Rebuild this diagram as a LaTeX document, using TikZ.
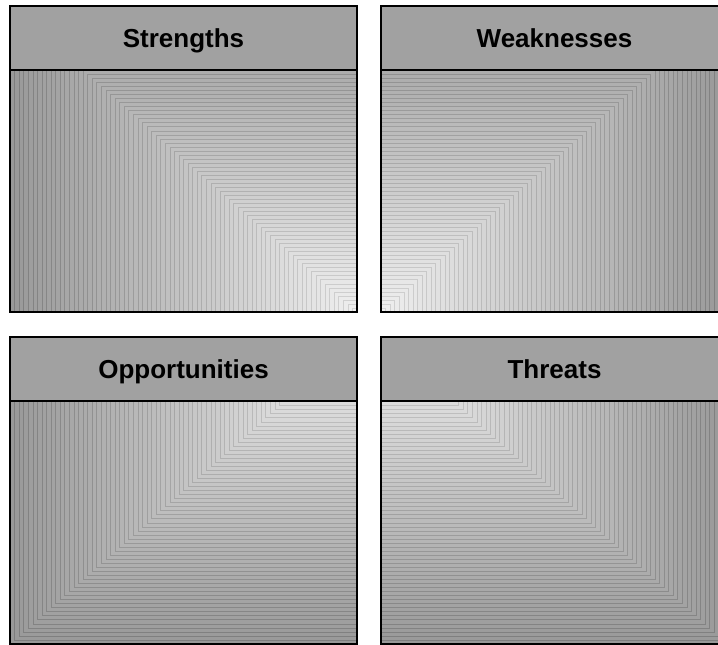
\documentclass[tikz,border=0pt]{standalone}
\usepackage{fontspec}
\setmainfont{Liberation Sans}
\usetikzlibrary{calc}
\tikzset{
  swothead/.style={draw=black, line width=1.6pt, fill={rgb,255:red,161;green,161;blue,161},
    minimum width=347pt, minimum height=64pt, inner sep=0pt, outer sep=0pt,
    text height=19pt, text depth=1pt,
    font=\fontsize{26}{30}\selectfont\bfseries, text=black},
  swotframe/.style={draw=black, line width=1.6pt},
  swotstep/.style={line width=0.6pt}
}
\newcommand\gradbody[8]{%
  \begin{scope}
    \clip (#1,#2) rectangle (#3,#4);
    \foreach \i in {0,...,75}{
      \pgfmathsetmacro\tt{1-\i/76}
      \pgfmathsetmacro\gg{0.94-0.34*\tt}
      \pgfmathsetmacro\gl{\gg-0.11}
      \pgfmathsetmacro\cx{#5+\tt*(#7-#5)}
      \pgfmathsetmacro\cy{#6+\tt*(#8-#6)}
      \definecolor{stepc}{gray}{\gg}
      \definecolor{stepl}{gray}{\gl}
      \fill[swotstep, fill=stepc, draw=stepl] (#5,#6) rectangle (\cx,\cy);
    }
  \end{scope}
  \draw[swotframe] (#1,#2) rectangle (#3,#4);
}
\begin{document}
\begin{tikzpicture}[x=1pt,y=-1pt]
  \useasboundingbox (0,0) rectangle (718,645);
  \clip (0,0) rectangle (718,645);
  % Strengths: focus bottom-right
  \gradbody{10}{70}{357}{312}{357}{312}{10}{6}
  \node[swothead] (s) at (183.5,38) {Strengths};
  % Weaknesses: focus bottom-left
  \gradbody{381}{70}{728}{312}{381}{312}{728}{6}
  \node[swothead] (w) at (554.5,38) {Weaknesses};
  % Opportunities: focus top-right
  \gradbody{10}{401}{357}{644}{357}{337}{10}{644}
  \node[swothead] (o) at (183.5,369) {Opportunities};
  % Threats: focus top-left
  \gradbody{381}{401}{728}{644}{381}{337}{728}{644}
  \node[swothead] (t) at (554.5,369) {Threats};
\end{tikzpicture}
\end{document}
